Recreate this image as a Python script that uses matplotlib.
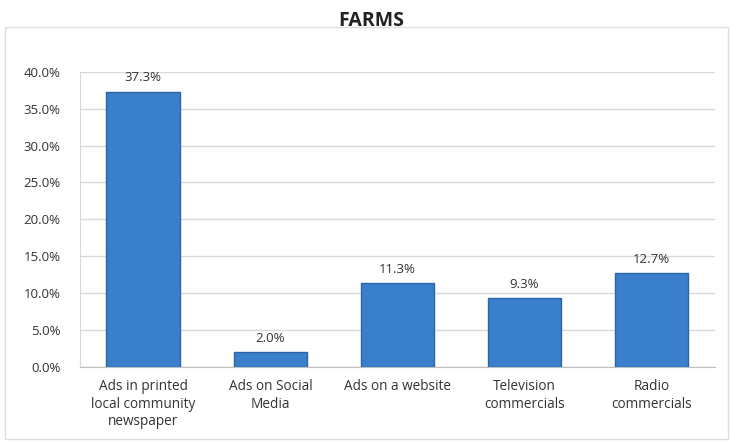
import matplotlib.pyplot as plt
from matplotlib.patches import Rectangle

categories = ["Ads in printed\nlocal community\nnewspaper", "Ads on Social\nMedia",
              "Ads on a website", "Television\ncommercials", "Radio\ncommercials"]
values = [37.3, 2.0, 11.3, 9.3, 12.7]
yticks = [0, 5, 10, 15, 20, 25, 30, 35, 40]

plt.rcParams['font.family'] = ['Open Sans', 'DejaVu Sans']

fig = plt.figure(figsize=(7.32, 4.43), dpi=100)
ax = fig.add_axes([0.109, 0.172, 0.868, 0.666])

x = range(len(values))
ax.bar(x, values, width=0.58, color='#3a7fcc', edgecolor='#2c64a6', linewidth=1.0, zorder=3)
for i, v in zip(x, values):
    ax.text(i, v + 1.0, f"{v:.1f}%", ha='center', va='bottom', fontsize=9.5, color='#333333')

ax.set_xlim(-0.5, len(values) - 0.5)
ax.set_ylim(0, 40)
ax.set_yticks(yticks)
ax.set_yticklabels([f"{t:.1f}%" for t in yticks], fontsize=9.5, color='#333333')
ax.set_xticks(list(x))
ax.set_xticklabels(categories, fontsize=9.8, color='#333333', linespacing=1.2)
ax.tick_params(axis='y', length=0, pad=14)
ax.tick_params(axis='x', length=0, pad=9)
ax.grid(axis='y', color='#d9d9d9', linewidth=1.0, zorder=0)
for s in ['top', 'right']:
    ax.spines[s].set_visible(False)
ax.spines['left'].set_color('#d9d9d9')
ax.spines['bottom'].set_color('#bfbfbf')

fig.text(0.507, 0.952, "FARMS", ha='center', va='center', fontsize=14, fontweight='bold', color='#222222')
fig.patches.append(Rectangle((0.007, 0.008), 0.988, 0.93, transform=fig.transFigure,
                             fill=False, edgecolor='#dddddd', linewidth=1.0))

fig.savefig('out.png', dpi=100)
